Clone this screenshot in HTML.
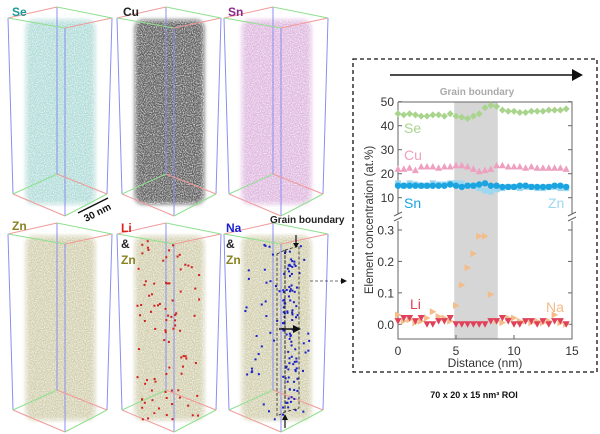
<!DOCTYPE html>
<html><head><meta charset="utf-8"><style>
html,body{margin:0;padding:0;background:#fff}
svg{display:block}
text{font-family:"Liberation Sans",sans-serif}
</style></head><body>
<svg id="root" width="600" height="434" viewBox="0 0 600 434" xmlns="http://www.w3.org/2000/svg">
<defs>
<filter id="noise" x="0" y="0" width="100%" height="100%">
<feTurbulence type="fractalNoise" baseFrequency="0.9" numOctaves="1" seed="3" result="t"/>
<feColorMatrix type="matrix" values="0 0 0 0 1  0 0 0 0 1  0 0 0 0 1  0 0 0 -2.2 1.35" in="t" result="w"/>
<feComposite in="w" in2="SourceGraphic" operator="in"/>
</filter>
<filter id="blur"><feGaussianBlur stdDeviation="2"/></filter>
</defs>
<g id="panels"></g>

<text x="12" y="16" font-size="12" font-weight="bold" fill="#1a9a96">Se</text>
<text x="123" y="16" font-size="12" font-weight="bold" fill="#222">Cu</text>
<text x="228" y="16" font-size="12" font-weight="bold" fill="#8a2a8a">Sn</text>
<text x="12" y="230" font-size="12" font-weight="bold" fill="#8a8220">Zn</text>
<text x="121" y="232" font-size="12" font-weight="bold" fill="#e02020">Li</text>
<text x="121" y="248" font-size="12" font-weight="bold" fill="#222">&amp;</text>
<text x="121" y="264" font-size="12" font-weight="bold" fill="#8a8220">Zn</text>
<text x="226" y="232" font-size="12" font-weight="bold" fill="#1a20d0">Na</text>
<text x="226" y="248" font-size="12" font-weight="bold" fill="#222">&amp;</text>
<text x="226" y="264" font-size="12" font-weight="bold" fill="#8a8220">Zn</text>
<text x="270" y="223" font-size="10" font-weight="bold" fill="#222">Grain boundary</text>
<line x1="78" y1="213" x2="108" y2="198" stroke="#111" stroke-width="1.5"/>
<text x="0" y="0" font-size="10" font-weight="bold" fill="#111" transform="translate(86,222) rotate(-27)">30 nm</text>

<g fill="none" stroke="#222" stroke-width="0.8" stroke-dasharray="3,2">
<polygon points="285,250 299,246 299,408 285,412"/>
<polygon points="277,254 285,250 285,412 277,416"/>
</g>
<line x1="296" y1="235" x2="296" y2="245" stroke="#111" stroke-width="1.2"/>
<polygon points="293,243 299,243 296,248" fill="#111"/>
<line x1="285" y1="418" x2="285" y2="428" stroke="#111" stroke-width="1.2"/>
<polygon points="282,420 288,420 285,414" fill="#111"/>
<line x1="279" y1="329" x2="295" y2="329" stroke="#111" stroke-width="1.5"/>
<polygon points="293,325 301,329 293,333" fill="#111"/>
<line x1="310" y1="281" x2="342" y2="281" stroke="#444" stroke-width="0.8" stroke-dasharray="3,2"/>
<polygon points="341,278 347,281 341,284" fill="#111"/>

<rect x="353" y="59" width="244" height="313" fill="none" stroke="#111" stroke-width="1.3" stroke-dasharray="4,3"/>
<line x1="390" y1="75" x2="574" y2="75" stroke="#111" stroke-width="1.5"/>
<polygon points="572,69 583,75 572,81" fill="#111"/>
<text x="477" y="95" text-anchor="middle" font-size="10" font-weight="bold" fill="#aaa">Grain boundary</text>
<g id="chart"></g>
<text x="474" y="398" text-anchor="middle" font-size="9" font-weight="bold" fill="#111">70 x 20 x 15 nm³ ROI</text>
</svg>
<script>
const distance=[0,0.5,1,1.5,2,2.5,3,3.5,4,4.5,5,5.5,6,6.5,7,7.5,8,8.5,9,9.5,10,10.5,11,11.5,12,12.5,13,13.5,14,14.5];
const seVals=[45,44.5,45,44.5,44,44,44.5,44.5,44,45,44,43.5,43,44,45,47.5,48.5,48,46.5,46,46,45.5,45.5,46,46,46,46.5,46.5,46.5,47];
const cuVals=[22,22,22.5,21.5,23,23,23,22.5,23,23,23.5,23.5,23,22,21,21.5,22,23.5,23.5,23,23,23,22.5,23,22.5,22.5,22.5,22.5,22.5,22];
const snVals=[15,15,15,15,15,15,15,15,15,15.5,15,14.5,15,15,15.5,16,15,15,14.5,14.5,14.5,15,15,14.5,14.5,14.5,14.5,15,15,14.5];
const znVals=[16,15,16,15.5,15,15,16,15.5,15.5,16,16,16,15,15,14,13,12.5,13.5,14,14.5,14.5,14,14.5,14.5,14,14,14.5,14.5,14,14];
const liVals=[0.01,0.02,0.02,0.01,0.02,0,0,0.01,0.01,0.02,0,0,0,0,0,0,0.01,0.01,0.02,0.01,0,0,0.01,0.01,0,0.01,0,0.01,0.01,0];
const naVals=[0.03,0.01,0.015,0.005,0.01,0.02,0.04,0.025,0.02,0.01,0.06,0.125,0.18,0.225,0.28,0.28,0.095,0.01,0.005,0.02,0.02,0.01,0.01,0.005,0.01,0.005,0.01,0.03,0.005,0];
const upperTicks=[10,20,30,40,50];
const lowerTicks=[0.0,0.1,0.2,0.3];
const xTicks=[0,5,10,15];
const gbRange=[4.85,8.6];

const NS="http://www.w3.org/2000/svg";
function mk(tag,attrs,parent){const e=document.createElementNS(NS,tag);for(const k in attrs)e.setAttribute(k,attrs[k]);parent.appendChild(e);return e;}
const X0=398,X1=572;
const xs=v=>X0+(v-0)/(15-0)*(X1-X0);
const yU=v=>197.7-(v-10)*2.4;
const yL=v=>324.3-v*(94.3/0.3);
const chart=document.getElementById('chart');

let band=mk('rect',{x:xs(gbRange[0]),y:102,width:xs(gbRange[1])-xs(gbRange[0]),height:237,fill:'#d6d6d6'},chart);


let ax=mk('path',{d:`M${X0},102 V214 M${X0},221 V339 H${X1} V221 M${X1},214 V102 H${X0}`,fill:'none',stroke:'#666','stroke-width':1},chart);


let brk=mk('path',{d:`M${X0-4},216 l8,-4 M${X0-4},221 l8,-4 M${X1-4},216 l8,-4 M${X1-4},221 l8,-4`,stroke:'#666','stroke-width':1},chart);


upperTicks.forEach(t=>{const y=yU(t);mk('line',{x1:X0,x2:X0+4,y1:y,y2:y,stroke:'#666'},chart);mk('line',{x1:X1,x2:X1-4,y1:y,y2:y,stroke:'#666'},chart);
 const tx=mk('text',{x:X0-4,y:y+4.5,'text-anchor':'end','font-size':12,fill:'#333'},chart);tx.textContent=t;
 
 });
lowerTicks.forEach(t=>{const y=yL(t);mk('line',{x1:X0,x2:X0+4,y1:y,y2:y,stroke:'#666'},chart);mk('line',{x1:X1,x2:X1-4,y1:y,y2:y,stroke:'#666'},chart);
 const tx=mk('text',{x:X0-4,y:y+4.5,'text-anchor':'end','font-size':12,fill:'#333'},chart);tx.textContent=t.toFixed(1);
 
 });
xTicks.forEach(t=>{const x=xs(t);mk('line',{x1:x,x2:x,y1:339,y2:335,stroke:'#666'},chart);
 const tx=mk('text',{x:x,y:355,'text-anchor':'middle','font-size':12,fill:'#333'},chart);tx.textContent=t;
 
 });
let xl=mk('text',{x:485,y:367,'text-anchor':'middle','font-size':12,fill:'#333'},chart);xl.textContent='Distance (nm)';


let yl=mk('text',{x:0,y:0,'text-anchor':'middle','font-size':11.5,fill:'#333',transform:'translate(373,220) rotate(-90)'},chart);yl.textContent='Element concentration (at.%)';



function marker(shape,x,y,c,g){
 if(shape==='diamond')return mk('polygon',{points:`${x},${y-3.5} ${x+3.5},${y} ${x},${y+3.5} ${x-3.5},${y}`,fill:c},g);
 if(shape==='up')return mk('polygon',{points:`${x},${y-3.5} ${x+3.5},${y+3} ${x-3.5},${y+3}`,fill:c},g);
 if(shape==='down')return mk('polygon',{points:`${x-3.5},${y-3} ${x+3.5},${y-3} ${x},${y+3.5}`,fill:c},g);
 if(shape==='right')return mk('polygon',{points:`${x-3},${y-3.5} ${x+3.5},${y} ${x-3},${y+3.5}`,fill:c},g);
 if(shape==='square')return mk('rect',{x:x-3,y:y-3,width:6,height:6,fill:c},g);
 return mk('circle',{cx:x,cy:y,r:3.2,fill:c},g);
}
function series(name,vals,shape,color,ys){
 const g=mk('g',{},chart);
 
 
 vals.forEach((v,i)=>{const m=marker(shape,xs(distance[i]),ys(v),color,g);
  
  });
}
series('zn',znVals,'square','#9ed8f0',yU);
series('se',seVals,'diamond','#a8d48c',yU);
series('cu',cuVals,'up','#eea0c0',yU);
series('sn',snVals,'circle','#1aa4e0',yU);
series('na',naVals,'right','#f4bc88',yL);
series('li',liVals,'down','#e0405a',yL);
const lbls=[['Se',404,133,'#a8d48c'],['Cu',404,160,'#eea0c0'],['Sn',404,208,'#1aa4e0'],['Zn',548,208,'#9ed8f0'],['Li',410,309,'#e0405a'],['Na',546,312,'#f4bc88']];
lbls.forEach(l=>{const t=mk('text',{x:l[1],y:l[2],'font-size':14,fill:l[3]},chart);t.textContent=l[0];
 
 });

const panels=document.getElementById('panels');
const pcfg=[[0,0,'#b0dcd8','se'],[109,0,'#5e5e5e','cu'],[216,0,'#dfb8df','sn'],[0,216,'#d2cfae','zn'],[109,216,'#d2cfae','li-zn'],[216,216,'#d2cfae','na-zn']];
pcfg.forEach(p=>{
 const [dx,dy,col,nm]=p;
 const g=mk('g',{transform:`translate(${dx},${dy})`},panels);
 
 
 mk('rect',{x:26,y:20,width:69,height:184,rx:8,fill:col,filter:'url(#blur)'},g);
 mk('rect',{x:26,y:20,width:69,height:184,rx:8,fill:col,filter:'url(#noise)',opacity:0.9},g);
 mk('path',{d:'M57,7 V174 M65,28 V216 M8,18 L13,194 M112,18 L107,194',stroke:'#8a8ff0','stroke-width':1,fill:'none'},g);
 mk('path',{d:'M8,18 L57,7 M65,28 L112,18 M13,194 L65,216 M57,174 L107,194',stroke:'#f09a9a','stroke-width':1,fill:'none'},g);
 mk('path',{d:'M57,7 L112,18 M8,18 L65,28 M65,216 L107,194 M13,194 L57,174',stroke:'#90e090','stroke-width':1,fill:'none'},g);
});
let s=7;function rnd(){s=(s*9301+49297)%233280;return s/233280;}
const dots=mk('g',{},panels);


for(let i=0;i<90;i++){mk('rect',{x:136+rnd()*65,y:240+rnd()*180,width:2,height:2,fill:'#d02020'},dots);}
for(let i=0;i<50;i++){mk('rect',{x:242+rnd()*68,y:240+rnd()*180,width:2,height:2,fill:'#1a20c8'},dots);}
for(let i=0;i<90;i++){mk('rect',{x:282+rnd()*15,y:250+rnd()*160,width:2,height:2,fill:'#1a20c8'},dots);}
</script>
</body></html>
